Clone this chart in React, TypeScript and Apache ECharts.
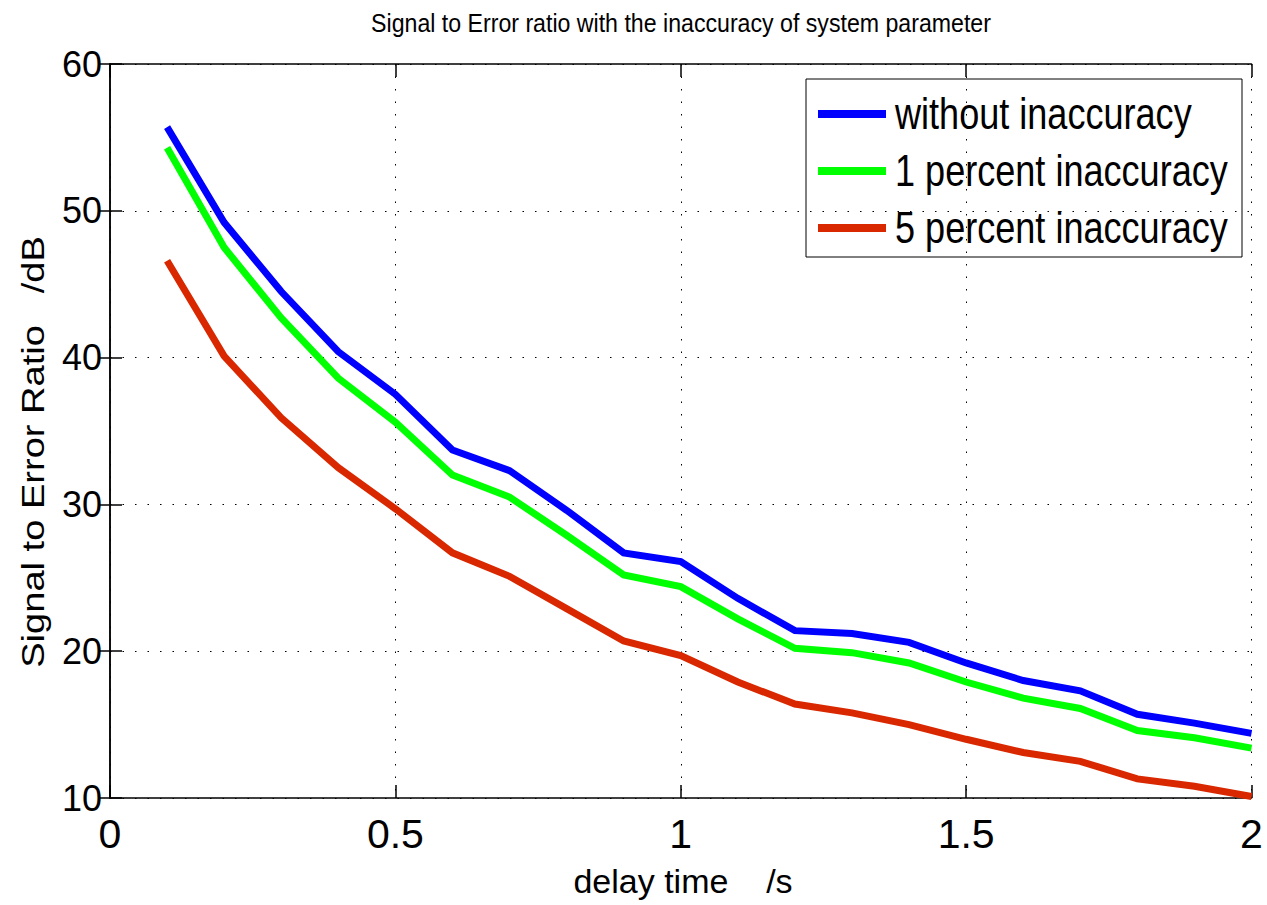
import React, { useEffect, useRef } from "react";
import * as echarts from "echarts";

const delayTimes = [0.1, 0.2, 0.3, 0.4, 0.5, 0.6, 0.7, 0.8, 0.9, 1.0, 1.1, 1.2, 1.3, 1.4, 1.5, 1.6, 1.7, 1.8, 1.9, 2.0];
const withoutInaccuracy = [55.7, 49.2, 44.5, 40.4, 37.5, 33.7, 32.3, 29.6, 26.7, 26.1, 23.6, 21.4, 21.2, 20.6, 19.2, 18.0, 17.3, 15.7, 15.1, 14.4];
const onePercent = [54.3, 47.5, 42.7, 38.6, 35.6, 32.0, 30.5, 27.9, 25.2, 24.4, 22.2, 20.2, 19.9, 19.2, 17.9, 16.8, 16.1, 14.6, 14.1, 13.4];
const fivePercent = [46.6, 40.1, 35.9, 32.5, 29.7, 26.7, 25.1, 22.9, 20.7, 19.7, 17.9, 16.4, 15.8, 15.0, 14.0, 13.1, 12.5, 11.3, 10.8, 10.1];
const seriesNames = ["without inaccuracy", "1 percent inaccuracy", "5 percent inaccuracy"];
const seriesColors = ["#0000ff", "#00ff00", "#d92800"];

const titleText = "Signal to Error ratio with the inaccuracy of system parameter";
const xLabelText = "delay time    /s";
const yLabelText = "Signal to Error Ratio   /dB";

const REGULAR = "'Liberation Sans', Arial, sans-serif";

export default function App() {
  const ref = useRef<HTMLDivElement>(null);
  useEffect(() => {
    if (!ref.current) return;
    const chart = echarts.init(ref.current, null, { renderer: "svg" });
    const values = [withoutInaccuracy, onePercent, fivePercent];
    const gridLeft = 110, gridTop = 64, gridRight = 1267 - 1251.5, gridBottom = 905 - 798;
    const axisLineStyle = { color: "#000", width: 1.5 };
    const dotted = { color: "#000", width: 1, type: [1.5, 11] as any };

    // legend drawn as a graphic group so that the condensed text can be matched
    const legendLeft = 806, legendTop = 79, legendW = 436, legendH = 178;
    const rowY = [114, 171, 228];
    const legendChildren: any[] = [
      {
        type: "rect",
        shape: { x: legendLeft, y: legendTop, width: legendW, height: legendH },
        style: { fill: "#fff", stroke: "#000", lineWidth: 1 },
      },
    ];
    seriesNames.forEach((name, i) => {
      legendChildren.push({
        type: "line",
        shape: { x1: 818, y1: rowY[i], x2: 886, y2: rowY[i] },
        style: { stroke: seriesColors[i], lineWidth: 8 },
      });
      legendChildren.push({
        type: "text",
        x: 895,
        y: rowY[i],
        scaleX: 0.82,
        style: { text: name, font: `44px ${REGULAR}`, fill: "#000", textAlign: "left", textVerticalAlign: "middle" },
      });
    });

    chart.setOption({
      animation: false,
      backgroundColor: "#fff",
      grid: { left: gridLeft, top: gridTop, right: gridRight, bottom: gridBottom, containLabel: false },
      xAxis: [
        {
          type: "value",
          min: 0,
          max: 2,
          interval: 0.5,
          position: "bottom",
          axisLine: { show: true, lineStyle: axisLineStyle },
          axisTick: { show: true, inside: true, length: 13, lineStyle: axisLineStyle },
          axisLabel: { fontFamily: REGULAR, fontSize: 41, color: "#000", margin: 15 },
          splitLine: { show: true, lineStyle: dotted },
        },
        {
          type: "value",
          min: 0,
          max: 2,
          interval: 0.5,
          position: "top",
          axisLine: { show: true, lineStyle: axisLineStyle },
          axisTick: { show: true, inside: true, length: 13, lineStyle: axisLineStyle },
          axisLabel: { show: false },
          splitLine: { show: false },
        },
      ],
      yAxis: [
        {
          type: "value",
          min: 10,
          max: 60,
          interval: 10,
          position: "left",
          axisLine: { show: true, lineStyle: axisLineStyle },
          axisTick: { show: true, inside: true, length: 12, lineStyle: axisLineStyle },
          axisLabel: { fontFamily: REGULAR, fontSize: 36, color: "#000", margin: 8 },
          splitLine: { show: true, lineStyle: dotted },
        },
        {
          type: "value",
          min: 10,
          max: 60,
          interval: 10,
          position: "right",
          axisLine: { show: true, lineStyle: axisLineStyle },
          axisTick: { show: true, inside: true, length: 12, lineStyle: axisLineStyle },
          axisLabel: { show: false },
          splitLine: { show: false },
        },
      ],
      graphic: [
        {
          type: "text",
          x: 681,
          y: 23,
          scaleX: 0.89,
          style: { text: titleText, font: `26px ${REGULAR}`, fill: "#000", textAlign: "center", textVerticalAlign: "middle" },
        },
        {
          type: "text",
          x: 683,
          y: 881,
          style: { text: xLabelText, font: `34px ${REGULAR}`, fill: "#000", textAlign: "center", textVerticalAlign: "middle" },
        },
        {
          type: "text",
          x: 33,
          y: 452,
          rotation: Math.PI / 2,
          scaleX: 1.19,
          style: { text: yLabelText, font: `32px ${REGULAR}`, fill: "#000", textAlign: "center", textVerticalAlign: "middle" },
        },
        { type: "group", z: 100, children: legendChildren },
      ],
      series: values.map((vals, i) => ({
        name: seriesNames[i],
        type: "line",
        xAxisIndex: 0,
        yAxisIndex: 0,
        showSymbol: false,
        symbol: "none",
        color: seriesColors[i],
        lineStyle: { color: seriesColors[i], width: 7, join: "miter" },
        data: delayTimes.map((t, j) => [t, vals[j]]),
        z: 5 - i,
      })),
    });
    return () => chart.dispose();
  }, []);
  return <div ref={ref} style={{ position: "absolute", left: 0, top: 0, width: 1267, height: 905 }} />;
}
